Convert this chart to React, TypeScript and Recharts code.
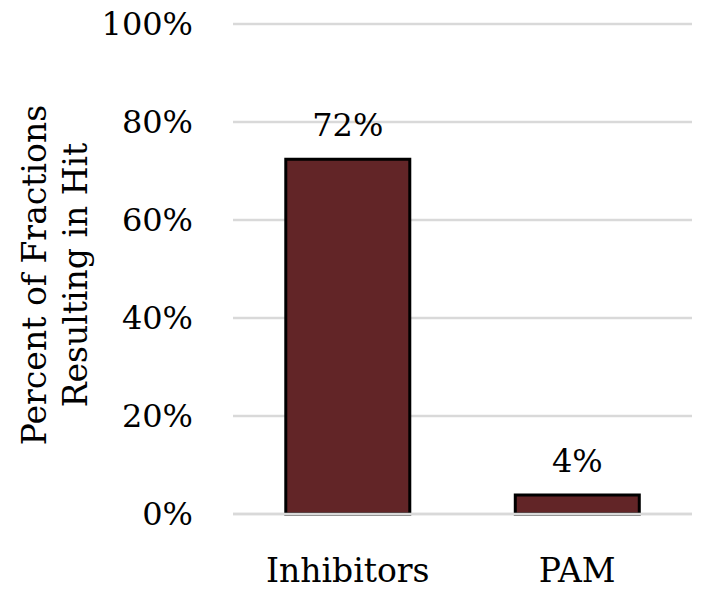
import React from "react";
import { BarChart, Bar, XAxis, YAxis, CartesianGrid, LabelList } from "recharts";

const categories = ["Inhibitors", "PAM"];
const hitPercent = [72.4, 3.9];
const yTicks = [0, 20, 40, 60, 80, 100];

const data = categories.map((name, i) => ({ name, value: hitPercent[i] }));

const FONT = "'DejaVu Serif', serif";

function YLabel({ viewBox }: any) {
  const cy = viewBox.y + viewBox.height / 2 + 6;
  return (
    <text
      transform={`rotate(-90, 0, ${cy})`}
      x={0}
      y={cy}
      textAnchor="middle"
      style={{ fontFamily: FONT }}
      fontSize={33}
      fill="#000"
    >
      <tspan x={0} dy={46}>Percent of Fractions</tspan>
      <tspan x={0} dy={41}>Resulting in Hit</tspan>
    </text>
  );
}

export default function App() {
  return (
    <div style={{ position: "absolute", left: 0, top: 0, background: "#fff", fontFamily: FONT }}>
      <BarChart
        width={704}
        height={592}
        data={data}
        margin={{ top: 24, right: 12, bottom: 0, left: 0 }}
        barCategoryGap="23%"
      >
        <CartesianGrid vertical={false} stroke="#d9d9d9" strokeWidth={2.5} />
        <XAxis
          dataKey="name"
          height={78}
          axisLine={{ stroke: "#d9d9d9", strokeWidth: 2.5 }}
          tickLine={false}
          tickMargin={39}
          tick={{ style: { fontFamily: FONT }, fontSize: 33, fill: "#000" }}
        />
        <YAxis
          width={233}
          domain={[0, 100]}
          ticks={yTicks}
          axisLine={false}
          tickLine={false}
          tickSize={0}
          tickMargin={40}
          tickFormatter={(v: number) => `${v}%`}
          tick={{ style: { fontFamily: FONT }, fontSize: 32, fill: "#000" }}
          label={<YLabel />}
        />
        <Bar dataKey="value" fill="#622527" stroke="#000" strokeWidth={3} isAnimationActive={false}>
          <LabelList
            dataKey="value"
            position="top"
            offset={23}
            formatter={(v: number) => `${Math.round(v)}%`}
            style={{ fontFamily: FONT, fontSize: 32, fill: "#000" }}
          />
        </Bar>
      </BarChart>
    </div>
  );
}
